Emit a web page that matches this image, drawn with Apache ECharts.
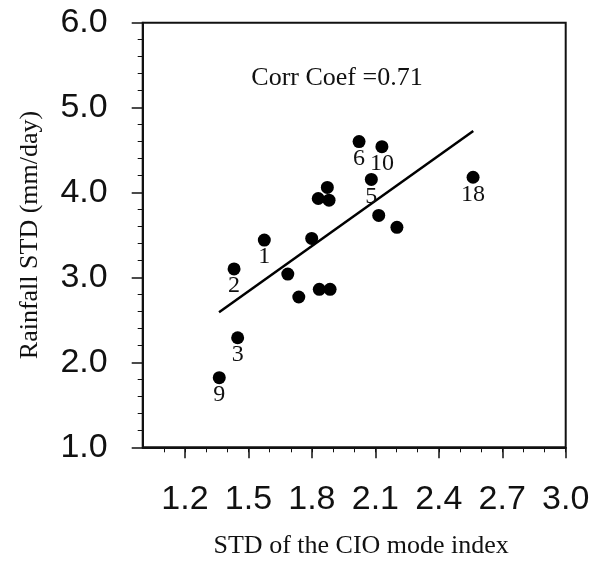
<!DOCTYPE html>
<html>
<head>
<meta charset="utf-8">
<style>html,body{margin:0;padding:0;background:#fff;}#c{width:593px;height:561px;}</style>
<script src="https://cdn.jsdelivr.net/npm/echarts@6/dist/echarts.min.js"></script>
</head>
<body>
<div id="c"></div>
<script>
// Data
const cioStd   = [1.362, 1.449, 1.432, 1.575, 1.686, 1.738, 1.799, 1.835, 1.886, 1.830, 1.881, 1.873, 2.023, 2.131, 2.081, 2.116, 2.202, 2.562];
const rainStd  = [1.82, 2.29, 3.10, 3.44, 3.04, 2.77, 3.46, 2.86, 2.86, 3.93, 3.91, 4.06, 4.60, 4.54, 4.155, 3.73, 3.59, 4.18];
const ptLabels = ['9', '3', '2', '1', '', '', '', '', '', '', '', '', '6', '10', '5', '', '', '18'];
const fitX = [1.361, 2.563];
const fitY = [2.59, 4.725];
const xMajorTicks = [1.2, 1.5, 1.8, 2.1, 2.4, 2.7, 3.0];
const xMinorTicks = [1.1,1.2,1.3,1.4,1.5,1.6,1.7,1.8,1.9,2.0,2.1,2.2,2.3,2.4,2.5,2.6,2.7,2.8,2.9,3.0];
const corrText = 'Corr Coef =0.71';

const chart = echarts.init(document.getElementById('c'), null, {renderer: 'canvas'});
const black = '#000';
const numFont = 'Liberation Sans';
const serif = 'Liberation Serif';

const scatterData = cioStd.map((x, i) => ({value: [x, rainStd[i]], label: {formatter: ptLabels[i]}}));

chart.setOption({
  animation: false,
  backgroundColor: '#fff',
  grid: {left: 142.7, top: 22.7, right: 27.3, bottom: 113.7, containLabel: false, outerBoundsMode: 'none',
    show: true, borderColor: '#111', borderWidth: 2, backgroundColor: 'transparent'},
  title: {
    text: corrText, left: 332, top: 60, textAlign: 'center',
    textStyle: {fontFamily: serif, fontSize: 26, fontWeight: 'normal', color: '#111'}
  },
  xAxis: [{
    type: 'value', min: 1.0, max: 3.0,
    name: 'STD of the CIO mode index', nameLocation: 'middle', nameGap: 86,
    nameTextStyle: {fontFamily: serif, fontSize: 26, color: '#111', verticalAlign: 'top', padding: [0, 0, 0, 14]},
    axisLine: {show: true, lineStyle: {color: '#111', width: 2}},
    axisTick: {show: true, length: 11, lineStyle: {color: '#111', width: 1.5}, customValues: xMajorTicks},
    axisLabel: {show: true, margin: 35, fontFamily: numFont, fontSize: 34, color: '#111', customValues: xMajorTicks,
      formatter: v => v.toFixed(1)},
    splitLine: {show: false}
  }, {
    type: 'value', min: 1.0, max: 3.0, position: 'bottom',
    axisLine: {show: false},
    axisTick: {show: true, length: 5, lineStyle: {color: '#111', width: 1}, customValues: xMinorTicks},
    axisLabel: {show: false},
    splitLine: {show: false}
  }],
  yAxis: {
    type: 'value', min: 1.0, max: 6.0, interval: 1,
    name: 'Rainfall STD (mm/day)', nameLocation: 'middle', nameGap: 100,
    nameTextStyle: {fontFamily: serif, fontSize: 26, color: '#111'},
    axisLine: {show: true, lineStyle: {color: '#111', width: 2}},
    axisTick: {show: true, length: 11, lineStyle: {color: '#111', width: 1.5}},
    minorTick: {show: true, splitNumber: 5, length: 5, lineStyle: {color: '#111', width: 1}},
    axisLabel: {margin: 35, fontFamily: numFont, fontSize: 34, color: '#111', formatter: v => v.toFixed(1)},
    splitLine: {show: false}
  },
  series: [{
    type: 'line',
    xAxisIndex: 0,
    data: fitX.map((x, i) => [x, fitY[i]]),
    showSymbol: false, symbol: 'none',
    lineStyle: {color: black, width: 2.5},
    z: 2
  }, {
    type: 'scatter',
    xAxisIndex: 0,
    data: scatterData,
    symbol: 'circle', symbolSize: 13,
    itemStyle: {color: black, opacity: 1},
    label: {show: true, position: 'inside', offset: [0, 17], color: '#111', fontFamily: serif, fontSize: 24, textBorderWidth: 0},
    emphasis: {disabled: true},
    z: 3
  }]
});
</script>
</body>
</html>
